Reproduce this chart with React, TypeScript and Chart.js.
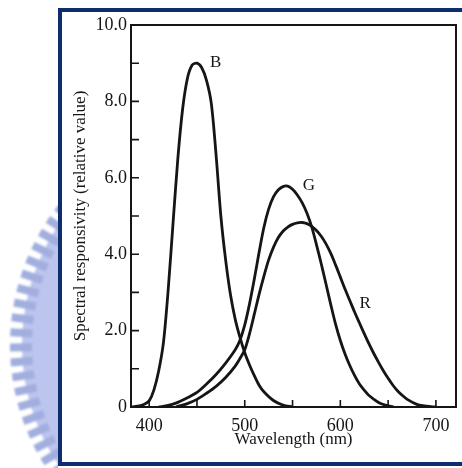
import { useEffect, useRef } from "react";
import { Chart, registerables } from "chart.js";

Chart.register(...registerables);

// Spectral responsivity curves of the three colour channels (nm, relative value)
const bWavelength = [382, 390, 395, 400, 405, 410, 415, 420, 425, 430, 435, 440, 445, 450, 455, 460, 465, 470, 475, 480, 485, 490, 495, 500, 505, 510, 515, 520, 530, 540, 550];
const bValue = [0, 0.03, 0.07, 0.16, 0.45, 0.95, 1.7, 3.1, 4.82, 6.5, 7.8, 8.6, 8.95, 9.0, 8.88, 8.55, 7.95, 6.6, 5.0, 3.85, 2.95, 2.3, 1.82, 1.42, 1.1, 0.82, 0.57, 0.4, 0.17, 0.05, 0];

const gWavelength = [410, 420, 430, 440, 450, 460, 470, 480, 490, 495, 500, 505, 510, 515, 520, 525, 530, 535, 540, 545, 550, 555, 560, 565, 570, 575, 580, 585, 590, 595, 600, 605, 610, 615, 620, 625, 630, 640, 650, 656];
const gValue = [0, 0.04, 0.12, 0.24, 0.38, 0.6, 0.85, 1.15, 1.5, 1.75, 2.15, 2.7, 3.35, 4.05, 4.7, 5.18, 5.5, 5.68, 5.77, 5.78, 5.7, 5.55, 5.35, 5.08, 4.72, 4.25, 3.75, 3.22, 2.68, 2.17, 1.74, 1.38, 1.08, 0.82, 0.6, 0.44, 0.3, 0.12, 0.03, 0];

const rWavelength = [428, 440, 450, 460, 470, 480, 490, 495, 500, 505, 510, 515, 520, 525, 530, 535, 540, 545, 550, 555, 560, 565, 570, 575, 580, 585, 590, 595, 600, 605, 610, 615, 620, 625, 630, 635, 640, 645, 650, 655, 660, 665, 670, 680, 690, 700];
const rValue = [0, 0.09, 0.2, 0.36, 0.54, 0.77, 1.07, 1.27, 1.5, 1.92, 2.43, 2.95, 3.42, 3.85, 4.18, 4.43, 4.6, 4.71, 4.78, 4.82, 4.83, 4.8, 4.73, 4.62, 4.47, 4.27, 4.02, 3.72, 3.4, 3.08, 2.78, 2.48, 2.2, 1.92, 1.65, 1.4, 1.17, 0.95, 0.75, 0.57, 0.42, 0.3, 0.2, 0.07, 0.02, 0];

const xLabelTicks = [400, 500, 600, 700];
const xMarkTicks = [400, 450, 500, 550, 600, 650, 700];
const yMarkTicks = [1, 2, 3, 4, 5, 6, 7, 8, 9];

const curveNames = ["B", "G", "R"];
const nameAnchorX = [469.5, 567, 626];
const nameAnchorY = [9.02, 5.79, 2.72];

const SERIF = "'Liberation Serif', 'Times New Roman', serif";
const INK = "#151515";
const NAVY = "#0e2d6d";

const toPoints = (xs: number[], ys: number[]) => xs.map((x, i) => ({ x, y: ys[i] }));

function drawEmblem(ctx: CanvasRenderingContext2D) {
  ctx.save();
  ctx.beginPath();
  ctx.rect(0, 0, 58, 468);
  ctx.clip();
  ctx.filter = "blur(0.8px)";
  const cx = 237;
  const cy = 345;
  const r = 215;
  ctx.fillStyle = "#bcc5ee";
  ctx.beginPath();
  ctx.arc(cx, cy, r, 0, Math.PI * 2);
  ctx.fill();
  ctx.fillStyle = "#a2aede";
  for (let a = 130; a <= 230; a += 3.8) {
    const t = (a * Math.PI) / 180;
    ctx.save();
    ctx.translate(cx + Math.cos(t) * r, cy + Math.sin(t) * r);
    ctx.rotate(t);
    ctx.fillRect(-10, -4, 22, 8);
    ctx.restore();
  }
  ctx.restore();
}

const framePlugin = {
  id: "frame",
  beforeDraw(chart: any) {
    const { ctx, width, height } = chart;
    ctx.save();
    ctx.fillStyle = "#ffffff";
    ctx.fillRect(0, 0, width, height);
    drawEmblem(ctx);
    ctx.fillStyle = NAVY;
    ctx.fillRect(58, 8, width - 58, 4);
    ctx.fillRect(58, 462, width - 58, 4);
    ctx.fillRect(58, 8, 4, 458);
    ctx.restore();
  },
  afterDraw(chart: any) {
    const { ctx, chartArea: a, scales } = chart;
    const x = scales.x;
    const y = scales.y;
    ctx.save();
    ctx.strokeStyle = INK;
    ctx.lineWidth = 2;
    ctx.strokeRect(a.left, a.top, a.right - a.left, a.bottom - a.top);
    ctx.lineWidth = 1.6;
    ctx.beginPath();
    for (const v of xMarkTicks) {
      const px = x.getPixelForValue(v);
      ctx.moveTo(px, a.bottom);
      ctx.lineTo(px, a.bottom - 7);
    }
    for (const v of yMarkTicks) {
      const py = y.getPixelForValue(v);
      ctx.moveTo(a.left, py);
      ctx.lineTo(a.left + 8, py);
    }
    ctx.stroke();
    ctx.fillStyle = INK;
    ctx.font = `17px ${SERIF}`;
    ctx.textAlign = "center";
    ctx.textBaseline = "middle";
    curveNames.forEach((n, i) => {
      ctx.fillText(n, x.getPixelForValue(nameAnchorX[i]), y.getPixelForValue(nameAnchorY[i]));
    });
    ctx.restore();
  },
};

export default function App() {
  const ref = useRef<HTMLCanvasElement | null>(null);

  useEffect(() => {
    if (!ref.current) return;
    const line = {
      borderColor: INK,
      borderWidth: 2.8,
      pointRadius: 0,
      fill: false,
      tension: 0.3,
    };
    const chart = new Chart(ref.current, {
      type: "line",
      data: {
        datasets: [
          { label: "B", data: toPoints(bWavelength, bValue), ...line },
          { label: "G", data: toPoints(gWavelength, gValue), ...line },
          { label: "R", data: toPoints(rWavelength, rValue), ...line },
        ],
      },
      options: {
        responsive: false,
        animation: false,
        layout: { padding: { top: 25, right: 6, left: 0, bottom: 0 } },
        plugins: { legend: { display: false }, tooltip: { enabled: false } },
        scales: {
          x: {
            type: "linear",
            min: 381,
            max: 721,
            grid: { display: false, drawTicks: false },
            border: { display: false },
            afterBuildTicks: (s: any) => {
              s.ticks = xLabelTicks.map((v) => ({ value: v }));
            },
            afterFit: (s: any) => {
              s.height = 61;
            },
            ticks: {
              padding: 8,
              color: INK,
              maxRotation: 0,
              autoSkip: false,
              font: { family: SERIF, size: 18 },
            },
            title: {
              display: true,
              text: "Wavelength (nm)",
              color: INK,
              font: { family: SERIF, size: 17 },
              padding: { top: 0, bottom: 18 },
            },
          },
          y: {
            type: "linear",
            min: 0,
            max: 10,
            grid: { display: false, drawTicks: false },
            border: { display: false },
            afterFit: (s: any) => {
              s.width = 131;
            },
            ticks: {
              stepSize: 2,
              padding: 4,
              color: INK,
              font: { family: SERIF, size: 18 },
              callback: (v: any) => (Number(v) === 0 ? "0" : Number(v).toFixed(1)),
            },
            title: {
              display: true,
              text: "Spectral responsivity (relative value)",
              color: INK,
              font: { family: SERIF, size: 17 },
              padding: { top: 70, bottom: 0 },
            },
          },
        },
      },
      plugins: [framePlugin],
    });
    return () => chart.destroy();
  }, []);

  return (
    <div style={{ position: "absolute", left: 0, top: 0, width: 462, height: 468 }}>
      <canvas ref={ref} width={462} height={468} />
    </div>
  );
}
